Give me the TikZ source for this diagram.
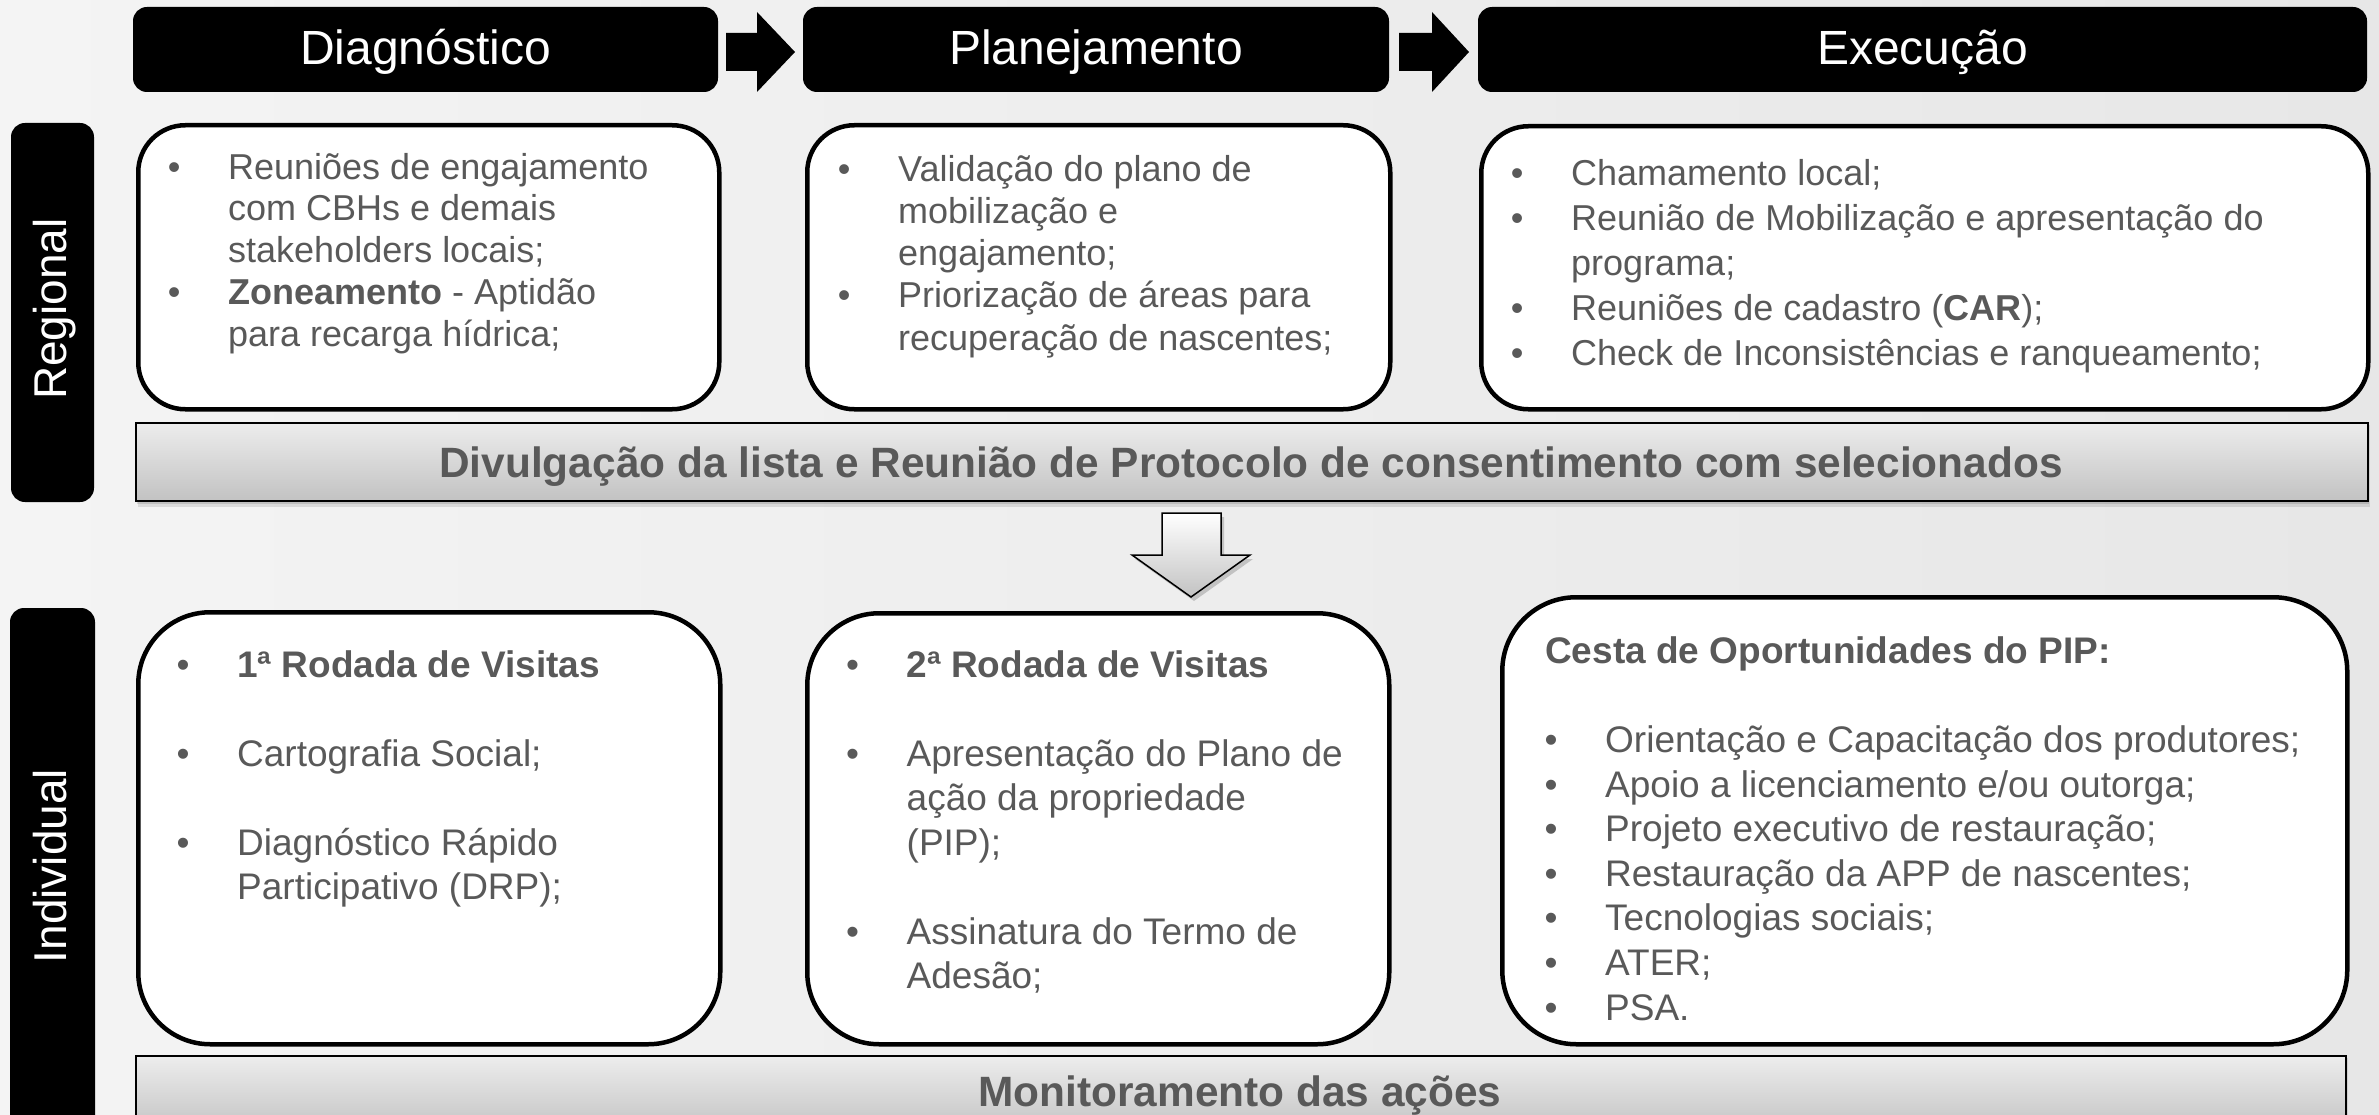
\documentclass[tikz,border=0pt]{standalone}
\usepackage{fontspec}
\setmainfont{Liberation Sans}
\definecolor{txtgray}{HTML}{595959}
\definecolor{bgA}{HTML}{F4F4F4}
\definecolor{bgB}{HTML}{E7E7E7}
\definecolor{banTop}{HTML}{EDEDED}
\definecolor{banBot}{HTML}{C2C2C2}
\newcommand\bul{\makebox[54pt][l]{\makebox[0pt]{\textbullet}}}
\newcommand\cnt{\hspace*{54pt}}
\begin{document}
\begin{tikzpicture}[x=1pt,y=-1pt,
  hdbox/.style={fill=black, rounded corners=14pt},
  hdtxt/.style={text=white, font=\fontsize{48}{56}\selectfont, inner sep=0pt, anchor=base},
  rowtxt/.style={text=white, font=\fontsize{46}{54}\selectfont, inner sep=0pt, anchor=base, rotate=90},
  blockarrow/.style={fill=black},
  cbox/.style={draw=black, line width=4.5pt, fill=white, inner sep=0pt, anchor=north west},
  banner/.style={draw=black, line width=1.5pt, top color=banTop, bottom color=banBot, inner sep=0pt, anchor=north west},
  bantxt/.style={text=txtgray, font=\fontsize{42.4}{50}\selectfont\bfseries, inner sep=0pt, anchor=base},
  listtxt/.style={text=txtgray, inner sep=0pt, anchor=north west}
]
\useasboundingbox (0,0) rectangle (2379,1115);
\begin{scope}
\clip (0,0) rectangle (2379,1115);
% background
\shade[left color=bgA, right color=bgB] (0,0) rectangle (2379,1115);

% header boxes
\fill[hdbox] (133,7) rectangle (718,92);
\fill[hdbox] (803,7) rectangle (1389,92);
\fill[hdbox] (1478,7) rectangle (2367,92);
\node[hdtxt] (hD) at (425.5,65) {Diagnóstico};
\node[hdtxt] (hP) at (1096,65) {Planejamento};
\node[hdtxt] (hE) at (1922.5,65) {Execução};

% header block arrows
\fill[blockarrow] (726,33) -- (757,33) -- (757,12) -- (795,52) -- (757,92) -- (757,71) -- (726,71) -- cycle;
\fill[blockarrow] (1399,33) -- (1432,33) -- (1432,12) -- (1469,52) -- (1432,92) -- (1432,71) -- (1399,71) -- cycle;

% row labels
\fill[hdbox] (11,123) rectangle (94,502);
\fill[hdbox] (10,608) rectangle (95,1150);
\node[rowtxt] (lR) at (66,309) {Regional};
\node[rowtxt] (lI) at (66,866) {Individual};

% content boxes row 1
\node[cbox, rounded corners=47pt, minimum width=581pt, minimum height=284pt] (d1) at (136,123) {};
\node[cbox, rounded corners=47pt, minimum width=583pt, minimum height=284pt] (p1) at (805,123) {};
\node[cbox, rounded corners=47pt, minimum width=887pt, minimum height=283pt] (e1) at (1479,124) {};

% banner 1 with shadow
\fill[black, opacity=0.10] (138,425) rectangle (2370,507);
\fill[black, opacity=0.12] (137,424) rectangle (2369,504);
\node[banner, minimum width=2232pt, minimum height=78pt] (b1) at (135,422) {};
\node[bantxt] (b1t) at (1251,477) {Divulgação da lista e Reunião de Protocolo de consentimento com selecionados};

% down arrow
\fill[black, opacity=0.18] (1165,517) -- (1224,517) -- (1224,559) -- (1253,559) -- (1194,601) -- (1135,559) -- (1165,559) -- cycle;
\shade[top color=white, bottom color=banBot, draw=black, line width=1.5pt]
  (1162,513) -- (1221,513) -- (1221,555) -- (1250,555) -- (1191,597) -- (1132,555) -- (1162,555) -- cycle;

% content boxes row 2
\node[cbox, rounded corners=72pt, minimum width=582pt, minimum height=432pt] (d2) at (136,610) {};
\node[cbox, rounded corners=72pt, minimum width=582pt, minimum height=431pt] (p2) at (805,611) {};
\node[cbox, rounded corners=74pt, minimum width=845pt, minimum height=447pt] (e2) at (1500,595) {};

% banner 2
\fill[black, opacity=0.10] (138,1058) rectangle (2348,1140);
\node[banner, minimum width=2210pt, minimum height=78pt] (b2) at (135,1055) {};
\node[bantxt] (b2t) at (1240,1106) {Monitoramento das ações};

% texts row 1
\node[listtxt] (t1) at (174,149.8) {\fontsize{36}{41.75}\selectfont
\begin{tabular}{@{}l@{}}
\bul Reuniões de engajamento\\
\cnt com CBHs e demais\\
\cnt stakeholders locais;\\
\bul \textbf{Zoneamento} - Aptidão\\
\cnt para recarga hídrica;
\end{tabular}};
\node[listtxt] (t2) at (844,151.4) {\fontsize{36}{42.25}\selectfont
\begin{tabular}{@{}l@{}}
\bul Validação do plano de\\
\cnt mobilização e\\
\cnt engajamento;\\
\bul Priorização de áreas para\\
\cnt recuperação de nascentes;
\end{tabular}};
\node[listtxt] (t3) at (1517,153.5) {\fontsize{36}{45}\selectfont
\begin{tabular}{@{}l@{}}
\bul Chamamento local;\\
\bul Reunião de Mobilização e apresentação do\\
\cnt programa;\\
\bul Reuniões de cadastro (\textbf{CAR});\\
\bul Check de Inconsistências e ranqueamento;
\end{tabular}};

% texts row 2
\node[listtxt] (t4) at (183,645.9) {\fontsize{37}{44.5}\selectfont
\begin{tabular}{@{}l@{}}
\bul \textbf{1ª Rodada de Visitas}\\
\\
\bul Cartografia Social;\\
\\
\bul Diagnóstico Rápido\\
\cnt Participativo (DRP);
\end{tabular}};
\node[listtxt] (t5) at (852.5,645.9) {\fontsize{37}{44.5}\selectfont
\begin{tabular}{@{}l@{}}
\bul \textbf{2ª Rodada de Visitas}\\
\\
\bul Apresentação do Plano de\\
\cnt ação da propriedade\\
\cnt (PIP);\\
\\
\bul Assinatura do Termo de\\
\cnt Adesão;
\end{tabular}};
\node[listtxt] (t6) at (1551,631.8) {\fontsize{37}{44.6}\selectfont
\begin{tabular}{@{}l@{}}
\hspace*{-6pt}\textbf{Cesta de Oportunidades do PIP:}\\
\\
\bul Orientação e Capacitação dos produtores;\\
\bul Apoio a licenciamento e/ou outorga;\\
\bul Projeto executivo de restauração;\\
\bul Restauração da APP de nascentes;\\
\bul Tecnologias sociais;\\
\bul ATER;\\
\bul PSA.
\end{tabular}};
\end{scope}
\end{tikzpicture}
\end{document}
